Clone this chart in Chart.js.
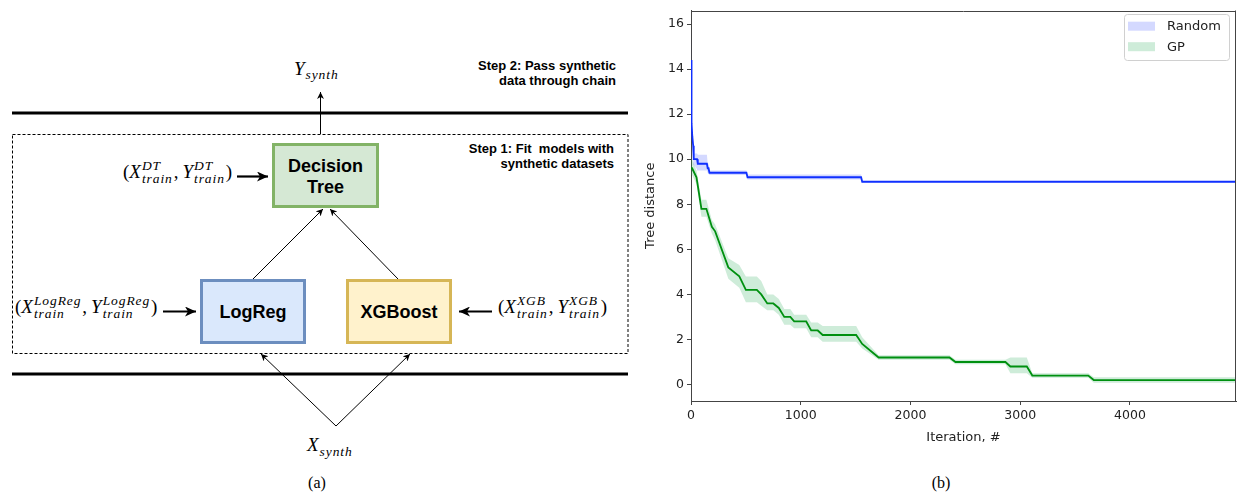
<!DOCTYPE html>
<html>
<head>
<meta charset="utf-8">
<script src="https://cdn.jsdelivr.net/npm/chart.js@4.4.1/dist/chart.umd.min.js"></script>
<style>
  html, body { margin: 0; padding: 0; background: #fff; }
  #page { position: relative; width: 1240px; height: 494px; overflow: hidden; }
  #fig { position: absolute; left: 0; top: 0; }
  #plot { position: absolute; left: 636px; top: 0; width: 604px; height: 450px; }
</style>
</head>
<body>
<div id="page">
  <svg id="fig" width="1240" height="494" xmlns="http://www.w3.org/2000/svg">
    <defs>
      <marker id="thin" markerUnits="userSpaceOnUse" markerWidth="8" markerHeight="8" refX="7" refY="3.5" orient="auto">
        <path d="M0,0 L7,3.5 L0,7 L2,3.5 z" fill="#000"/>
      </marker>
      <marker id="bold" markerUnits="userSpaceOnUse" markerWidth="12" markerHeight="10" refX="11" refY="5" orient="auto">
        <path d="M0,0 L11,5 L0,10 L3,5 z" fill="#000"/>
      </marker>
    </defs>
    <!-- chain borders -->
    <line x1="12" y1="113" x2="628" y2="113" stroke="#000" stroke-width="3"/>
    <line x1="12" y1="374" x2="628" y2="374" stroke="#000" stroke-width="3"/>
    <rect x="12.5" y="134.5" width="615.5" height="219" fill="none" stroke="#000" stroke-width="1" stroke-dasharray="3 2"/>

    <!-- model boxes -->
    <rect x="273.5" y="144.5" width="104" height="62" fill="#d5e8d4" stroke="#82b366" stroke-width="3"/>
    <rect x="201.5" y="280.5" width="103" height="62" fill="#dae8fc" stroke="#6c8ebf" stroke-width="3"/>
    <rect x="347.5" y="280.5" width="103" height="62" fill="#fff2cc" stroke="#d6b656" stroke-width="3"/>

    <g font-family="Liberation Sans" font-weight="bold" font-size="18" text-anchor="middle" fill="#000">
      <text x="325.5" y="171.5">Decision</text>
      <text x="325.5" y="193">Tree</text>
      <text x="253" y="318">LogReg</text>
      <text x="399" y="318">XGBoost</text>
    </g>
    <g font-family="Liberation Sans" font-weight="bold" font-size="13" text-anchor="end" fill="#000">
      <text x="616" y="69.5">Step 2: Pass synthetic</text>
      <text x="616" y="84.5">data through chain</text>
      <text x="614" y="153">Step 1: Fit&#160; models with</text>
      <text x="614" y="168">synthetic datasets</text>
    </g>

    <!-- arrows -->
    <g stroke="#000" stroke-width="1" fill="none">
      <line x1="320.5" y1="134" x2="320.5" y2="92" marker-end="url(#thin)"/>
      <line x1="253" y1="279" x2="323" y2="209" marker-end="url(#thin)"/>
      <line x1="398" y1="279" x2="330" y2="209" marker-end="url(#thin)"/>
      <line x1="336" y1="426" x2="261" y2="354" marker-end="url(#thin)"/>
      <line x1="336" y1="426" x2="410" y2="354" marker-end="url(#thin)"/>
    </g>
    <g stroke="#000" stroke-width="2.2" fill="none">
      <line x1="237" y1="176.5" x2="268" y2="176.5" marker-end="url(#bold)"/>
      <line x1="163" y1="311.5" x2="196" y2="311.5" marker-end="url(#bold)"/>
      <line x1="492" y1="311.5" x2="459" y2="311.5" marker-end="url(#bold)"/>
    </g>

    <g font-family="Liberation Serif" font-size="16" text-anchor="middle" fill="#000">
      <text x="317" y="488">(a)</text>
      <text x="941" y="488">(b)</text>
    </g>
  </svg>
  <div id="plot"><canvas id="chart"></canvas></div>
</div>

<script>
// axis setup
const xTicks = [0, 1000, 2000, 3000, 4000];
const yTicks = [0, 2, 4, 6, 8, 10, 12, 14, 16];
const xMax = 4966;
const yMin = -0.73;
const yMax = 16.6;
const seriesNames = ['Random', 'GP'];

// Random search: mean tree distance and band
const randIter = [0, 5, 12, 20, 25, 55, 62, 145, 152, 160, 168, 505, 515, 1550, 1560, 4966];
const randMean = [14.4, 11.6, 11.0, 10.6, 10.0, 10.0, 9.8, 9.8, 9.6, 9.6, 9.4, 9.4, 9.2, 9.2, 9.0, 9.0];
const randLow  = [13.0, 11.0, 10.6, 10.2, 9.75, 9.55, 9.5, 9.5, 9.4, 9.4, 9.3, 9.3, 9.1, 9.1, 8.98, 8.98];
const randHigh = [15.8, 12.2, 11.4, 11.0, 10.25, 10.25, 10.2, 10.2, 9.8, 9.8, 9.5, 9.5, 9.32, 9.32, 9.02, 9.02];

// GP optimisation: mean tree distance and band
const gpIter = [0, 10, 50, 95, 140, 190, 220, 340, 440, 500, 600, 640, 695, 750, 800, 850, 905, 940, 1050, 1095,
                1155, 1200, 1505, 1560, 1710, 2355, 2410, 2865, 2910, 3060, 3110, 3620, 3670, 4966];
const gpMean = [9.6, 9.6, 9.2, 7.8, 7.8, 7.0, 6.8, 5.2, 4.8, 4.2, 4.2, 4.0, 3.6, 3.6, 3.4, 3.0, 3.0, 2.8, 2.8, 2.4,
                2.4, 2.2, 2.2, 1.8, 1.2, 1.2, 1.0, 1.0, 0.8, 0.8, 0.4, 0.4, 0.2, 0.2];
const gpLow  = [9.3, 9.3, 8.9, 7.45, 7.45, 6.7, 6.4, 4.7, 4.3, 3.65, 3.65, 3.5, 3.3, 3.3, 3.1, 2.65, 2.65, 2.5, 2.5, 2.1,
                2.1, 1.9, 1.9, 1.6, 1.1, 1.1, 0.9, 0.9, 0.5, 0.5, 0.3, 0.3, 0.08, 0.08];
const gpHigh = [10.0, 10.0, 9.5, 8.2, 8.2, 7.3, 7.1, 5.6, 5.3, 4.8, 4.8, 4.6, 4.0, 4.0, 3.8, 3.35, 3.35, 3.1, 3.1, 2.75,
                2.75, 2.6, 2.6, 2.1, 1.3, 1.3, 1.1, 1.1, 1.2, 1.2, 0.5, 0.5, 0.32, 0.32];

const lineColors = ['#1030ff', '#009010'];
const bandColors = ['rgba(60,80,255,0.22)', 'rgba(30,170,80,0.22)'];
const inkColor = '#222';
const spineColor = '#444';

// ---- diagram math labels (measured so scripts sit after their base) ----
const NS = 'http://www.w3.org/2000/svg';
const fig = document.getElementById('fig');

function addText(x, y, str, size, italic, spacing) {
  const t = document.createElementNS(NS, 'text');
  t.setAttribute('x', x);
  t.setAttribute('y', y);
  t.setAttribute('font-family', 'Liberation Serif');
  t.setAttribute('font-size', size);
  if (italic) t.setAttribute('font-style', 'italic');
  if (spacing) t.setAttribute('letter-spacing', spacing);
  t.textContent = str;
  fig.appendChild(t);
  return t.getComputedTextLength();
}

function mathLabel(x, y, parts) {
  let cx = x;
  parts.forEach(p => {
    if (typeof p === 'string') {
      cx += addText(cx, y, p, 19, false);
      if (p === ',') cx += 4;
    } else {
      cx += addText(cx, y, p[0], 19, true) + 1;
      const a = p[1] ? addText(cx, y - 8.5, p[1], 13.5, true, 0.9) : 0;
      const b = p[2] ? addText(cx, y + 4.5, p[2], 13.5, true, 0.9) : 0;
      cx += Math.max(a, b) + 1;
    }
  });
}

mathLabel(294, 74.5, [['Y', null, 'synth']]);
mathLabel(307, 451, [['X', null, 'synth']]);
mathLabel(123, 178, ['(', ['X', 'DT', 'train'], ',', ['Y', 'DT', 'train'], ')']);
mathLabel(15, 313, ['(', ['X', 'LogReg', 'train'], ',', ['Y', 'LogReg', 'train'], ')']);
mathLabel(498, 313, ['(', ['X', 'XGB', 'train'], ',', ['Y', 'XGB', 'train'], ')']);

// ---- chart ----
function toPts(xs, ys) {
  return xs.map((x, i) => ({ x: x, y: ys[i] }));
}

// legend with a frame, matplotlib style
const boxLegend = {
  id: 'boxLegend',
  afterDraw(chart) {
    const ctx = chart.ctx;
    const right = chart.chartArea.right - 7;
    const top = 14;
    const w = 105, h = 46;
    const left = right - w;
    ctx.save();
    ctx.beginPath();
    ctx.roundRect(left + 0.5, top + 0.5, w, h, 3);
    ctx.fillStyle = 'rgba(255,255,255,0.8)';
    ctx.fill();
    ctx.strokeStyle = '#d0d0d0';
    ctx.lineWidth = 1;
    ctx.stroke();
    ctx.font = '13px "DejaVu Sans"';
    ctx.textBaseline = 'middle';
    seriesNames.forEach((name, i) => {
      const cy = top + 12.2 + i * 20.5;
      ctx.fillStyle = bandColors[i];
      ctx.fillRect(left + 4, cy - 4.5, 27, 9);
      ctx.fillStyle = inkColor;
      ctx.fillText(name, left + 43, cy + 0.5);
    });
    ctx.restore();
  }
};

// top and right spines
const spines = {
  id: 'spines',
  afterDatasetsDraw(chart) {
    const { ctx, chartArea } = chart;
    ctx.save();
    ctx.strokeStyle = spineColor;
    ctx.lineWidth = 1;
    ctx.beginPath();
    ctx.moveTo(chartArea.left, Math.round(chartArea.top) + 0.5);
    ctx.lineTo(chartArea.right, Math.round(chartArea.top) + 0.5);
    ctx.moveTo(Math.round(chartArea.right) - 0.5, chartArea.top);
    ctx.lineTo(Math.round(chartArea.right) - 0.5, chartArea.bottom);
    ctx.stroke();
    ctx.restore();
  }
};

Chart.defaults.font.family = 'DejaVu Sans';
Chart.defaults.color = inkColor;

const bandStyle = { borderWidth: 0, borderColor: 'rgba(0,0,0,0)', pointRadius: 0, tension: 0 };

new Chart(document.getElementById('chart'), {
  type: 'line',
  data: {
    datasets: [
      { label: seriesNames[0], data: toPts(randIter, randMean), borderColor: lineColors[0], borderWidth: 1.8, pointRadius: 0, fill: false, tension: 0 },
      { label: seriesNames[1], data: toPts(gpIter, gpMean), borderColor: lineColors[1], borderWidth: 1.8, pointRadius: 0, fill: false, tension: 0 },
      Object.assign({ label: 'Random high', data: toPts(randIter, randHigh), backgroundColor: bandColors[0], fill: '+1' }, bandStyle),
      Object.assign({ label: 'Random low', data: toPts(randIter, randLow), fill: false }, bandStyle),
      Object.assign({ label: 'GP high', data: toPts(gpIter, gpHigh), backgroundColor: bandColors[1], fill: '+1' }, bandStyle),
      Object.assign({ label: 'GP low', data: toPts(gpIter, gpLow), fill: false }, bandStyle)
    ]
  },
  options: {
    responsive: true,
    maintainAspectRatio: false,
    animation: false,
    layout: { padding: { top: 8, right: 4, left: 0, bottom: 0 } },
    plugins: { legend: { display: false }, tooltip: { enabled: false } },
    scales: {
      x: {
        type: 'linear',
        min: 0,
        max: xMax,
        afterBuildTicks: s => { s.ticks = xTicks.map(v => ({ value: v })); },
        afterFit: s => { s.height = 49; },
        ticks: { font: { size: 12.5 }, color: inkColor, padding: 3, maxRotation: 0, autoSkip: false,
                 callback: v => String(v) },
        grid: { drawOnChartArea: false, drawTicks: true, tickLength: 4, tickColor: spineColor },
        border: { display: true, color: spineColor, width: 1 },
        title: { display: true, text: 'Iteration, #', font: { size: 13 }, color: inkColor, padding: { top: 0, bottom: 5 } }
      },
      y: {
        type: 'linear',
        min: yMin,
        max: yMax,
        afterBuildTicks: s => { s.ticks = yTicks.map(v => ({ value: v })); },
        afterFit: s => { s.width = 55; },
        ticks: { font: { size: 12.5 }, color: inkColor, padding: 3, autoSkip: false,
                 callback: v => String(v) },
        grid: { drawOnChartArea: false, drawTicks: true, tickLength: 4, tickColor: spineColor },
        border: { display: true, color: spineColor, width: 1 },
        title: { display: true, text: 'Tree distance', font: { size: 13 }, color: inkColor, padding: { top: 7, bottom: 0 } }
      }
    }
  },
  plugins: [boxLegend, spines]
});
</script>
</body>
</html>
